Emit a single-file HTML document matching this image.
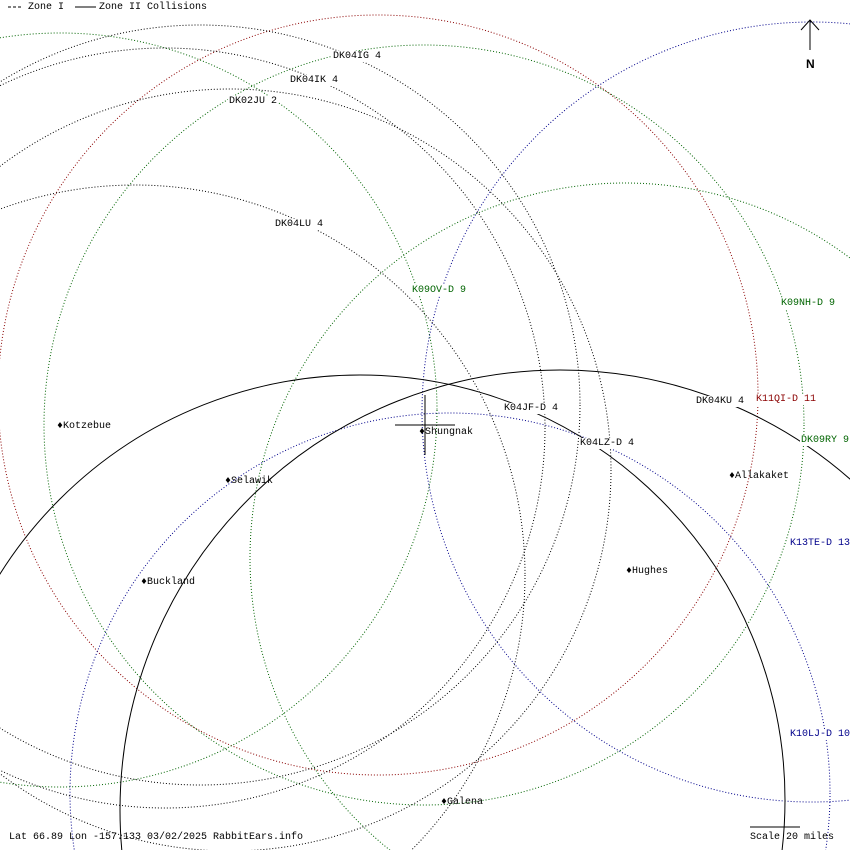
<!DOCTYPE html>
<html><head><meta charset="utf-8"><style>
html,body{margin:0;padding:0;background:#fff;width:850px;height:850px;overflow:hidden;}
#w{position:relative;width:850px;height:850px;overflow:hidden;background:#fff;font-family:"Liberation Mono","DejaVu Sans Mono",monospace;font-size:10px;}
svg{position:absolute;left:0;top:0;}
.l{position:absolute;background:#fff;line-height:11px;white-space:pre;padding:0 1px;}
.t{position:absolute;line-height:11px;white-space:pre;}
</style></head><body><div id="w">
<svg width="850" height="850" viewBox="0 0 850 850">
<g fill="none" stroke-width="1" stroke-dasharray="1 2">
<circle cx="378" cy="395" r="380" stroke="#8b0000"/>
<circle cx="424" cy="425" r="380" stroke="#006400"/>
<circle cx="625" cy="558" r="375" stroke="#006400"/>
<circle cx="60" cy="410" r="377" stroke="#006400"/>
<circle cx="812" cy="412" r="390" stroke="#00008b"/>
<circle cx="450" cy="793" r="380" stroke="#00008b"/>
<circle cx="200" cy="405" r="380" stroke="#000"/>
<circle cx="165" cy="428" r="380" stroke="#000"/>
<circle cx="230" cy="470" r="381" stroke="#000"/>
<circle cx="135" cy="575" r="390" stroke="#000"/>
</g>
<g fill="none" stroke="#000" stroke-width="1">
<circle cx="360" cy="800" r="425"/>
<circle cx="560" cy="810" r="440"/>
<line x1="425" y1="395" x2="425" y2="455"/>
<line x1="395" y1="425" x2="455" y2="425"/>
<line x1="810" y1="20" x2="810" y2="50"/>
<polyline points="801,30 810,20 819,30"/>
<line x1="750" y1="827" x2="800" y2="827"/>
<line x1="8" y1="7" x2="23" y2="7" stroke-dasharray="3 2"/>
<line x1="75" y1="7" x2="96" y2="7"/>
</g>
<text x="806" y="68" font-family="Liberation Sans, sans-serif" font-weight="bold" font-size="12">N</text>
</svg>
<div class="t" style="left:28px;top:2px;">Zone I</div>
<div class="t" style="left:99px;top:2px;">Zone II Collisions</div>
<div class="l" style="left:332px;top:51px;">DK04IG 4</div>
<div class="l" style="left:289px;top:75px;">DK04IK 4</div>
<div class="l" style="left:228px;top:96px;">DK02JU 2</div>
<div class="l" style="left:274px;top:219px;">DK04LU 4</div>
<div class="l" style="left:411px;top:285px;color:#006400;">K09OV-D 9</div>
<div class="l" style="left:780px;top:298px;color:#006400;">K09NH-D 9</div>
<div class="l" style="left:755px;top:394px;color:#8b0000;">K11QI-D 11</div>
<div class="l" style="left:695px;top:396px;">DK04KU 4</div>
<div class="l" style="left:503px;top:403px;">K04JF-D 4</div>
<div class="l" style="left:579px;top:438px;">K04LZ-D 4</div>
<div class="l" style="left:800px;top:435px;color:#006400;">DK09RY 9</div>
<div class="l" style="left:789px;top:538px;color:#00008b;">K13TE-D 13</div>
<div class="l" style="left:789px;top:729px;color:#00008b;">K10LJ-D 10</div>
<div class="t" style="left:57px;top:421px;">♦Kotzebue</div>
<div class="t" style="left:419px;top:427px;">♦Shungnak</div>
<div class="t" style="left:225px;top:476px;">♦Selawik</div>
<div class="t" style="left:141px;top:577px;">♦Buckland</div>
<div class="t" style="left:729px;top:471px;">♦Allakaket</div>
<div class="t" style="left:626px;top:566px;">♦Hughes</div>
<div class="t" style="left:441px;top:797px;">♦Galena</div>
<div class="t" style="left:9px;top:832px;">Lat 66.89 Lon -157.133 03/02/2025 RabbitEars.info</div>
<div class="t" style="left:750px;top:832px;">Scale 20 miles</div>
</div></body></html>
